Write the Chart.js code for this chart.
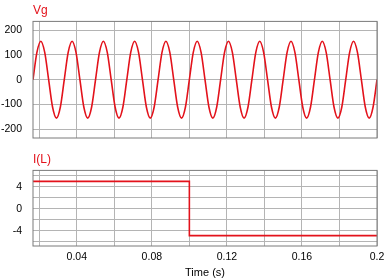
<!DOCTYPE html>
<html>
<head>
<meta charset="utf-8">
<script src="https://cdn.jsdelivr.net/npm/chart.js@4"></script>
<style>
  html, body { margin: 0; padding: 0; background: #fff; }
  #wrap { position: relative; width: 390px; height: 280px; }
  #top { position: absolute; left: 0; top: 0; }
  #bottom { position: absolute; left: 0; top: 142px; }
</style>
</head>
<body>
<div id="wrap">
  <canvas id="top" width="390" height="142"></canvas>
  <canvas id="bottom" width="390" height="138"></canvas>
</div>
<script>
// time axis (s)
const tStart = 1 / 60;
const tEnd = 0.2;
const tStep = 1 / 480; // 8 samples per 60 Hz cycle

// Vg samples (V)
const vgValues = [
  0, 110, 155, 110, 0, -110, -155, -110,
  0, 110, 155, 110, 0, -110, -155, -110,
  0, 110, 155, 110, 0, -110, -155, -110,
  0, 110, 155, 110, 0, -110, -155, -110,
  0, 110, 155, 110, 0, -110, -155, -110,
  0, 110, 155, 110, 0, -110, -155, -110,
  0, 110, 155, 110, 0, -110, -155, -110,
  0, 110, 155, 110, 0, -110, -155, -110,
  0, 110, 155, 110, 0, -110, -155, -110,
  0, 110, 155, 110, 0, -110, -155, -110,
  0, 110, 155, 110, 0, -110, -155, -110,
  0,
];
const vgTimes = vgValues.map((v, i) => tStart + i * tStep);

// I(L) trace (A)
const ilTimes = [tStart, 0.1, 0.1, 0.2];
const ilValues = [5, 5, -4.9, -4.9];

// grid / tick labels
const xTicks = [0.02, 0.04, 0.06, 0.08, 0.1, 0.12, 0.14, 0.16, 0.18, 0.2];
const xTickLabels = ["", "0.04", "", "0.08", "", "0.12", "", "0.16", "", "0.2"];
const vgTicks = [-200, -100, 0, 100, 200];
const vgTickLabels = ["-200", "-100", "0", "100", "200"];
const ilTicks = [-6, -4, -2, 0, 2, 4, 6];
const ilTickLabels = ["", "-4", "", "0", "", "4", ""];

const red = "#e3121b";
const gridColor = "#b4b4b4";

Chart.defaults.font.family = "'Liberation Sans', Arial, sans-serif";
Chart.defaults.font.size = 10.5;
Chart.defaults.color = "#000";

// box round the plot area
const frame = {
  id: "frame",
  afterDraw(chart) {
    const { ctx, chartArea: a } = chart;
    ctx.save();
    ctx.strokeStyle = "#7a7a7a";
    ctx.lineWidth = 1;
    ctx.strokeRect(a.left, a.top, a.right - a.left, a.bottom - a.top);
    ctx.restore();
  },
};

function makeChart(id, opts) {
  const setTicks = (list) => (scale) => {
    scale.ticks = list.map((v) => ({ value: v }));
  };
  return new Chart(document.getElementById(id), {
    type: "line",
    data: {
      datasets: [
        {
          data: opts.times.map((t, i) => ({ x: t, y: opts.values[i] })),
          borderColor: red,
          borderWidth: 1.6,
          pointRadius: 0,
          cubicInterpolationMode: opts.smooth ? "monotone" : "default",
          tension: 0,
        },
      ],
    },
    options: {
      responsive: false,
      animation: false,
      layout: { padding: { left: 0, right: 13, top: 0, bottom: opts.padBottom } },
      plugins: {
        legend: { display: false },
        tooltip: { enabled: false },
        title: {
          display: true,
          text: opts.title,
          align: "start",
          fullSize: false,
          color: red,
          font: { size: 12, weight: "normal" },
          padding: opts.titlePad,
        },
      },
      scales: {
        x: {
          type: "linear",
          min: tStart,
          max: tEnd,
          afterBuildTicks: setTicks(xTicks),
          afterFit: (s) => {
            s.height = opts.xHeight;
          },
          grid: { color: gridColor, drawTicks: false },
          border: { display: false },
          ticks: {
            display: opts.showX,
            padding: 5,
            maxRotation: 0,
            autoSkip: false,
            callback: (v, i) => xTickLabels[i],
          },
          title: {
            display: opts.showX,
            text: "Time (s)",
            font: { size: 11 },
            padding: { top: 0, bottom: 0 },
          },
        },
        y: {
          min: opts.yMin,
          max: opts.yMax,
          afterBuildTicks: setTicks(opts.yTicks),
          afterFit: (s) => {
            s.width = 33;
            s.paddingTop = 0;
            s.paddingBottom = 0;
          },
          grid: { color: gridColor, drawTicks: false },
          border: { display: false },
          ticks: {
            padding: 11,
            autoSkip: false,
            callback: (v, i) => opts.yLabels[i],
          },
        },
      },
    },
    plugins: [frame],
  });
}

makeChart("top", {
  title: "Vg",
  titlePad: { top: 3, bottom: 4 },
  times: vgTimes,
  values: vgValues,
  smooth: true,
  yMin: -235,
  yMax: 235,
  yTicks: vgTicks,
  yLabels: vgTickLabels,
  showX: false,
  xHeight: 0,
  padBottom: 4,
});

makeChart("bottom", {
  title: "I(L)",
  titlePad: { top: 10, bottom: 4 },
  times: ilTimes,
  values: ilValues,
  smooth: false,
  yMin: -6.8,
  yMax: 7.0,
  yTicks: ilTicks,
  yLabels: ilTickLabels,
  showX: true,
  xHeight: 34,
  padBottom: 0,
});
</script>
</body>
</html>
